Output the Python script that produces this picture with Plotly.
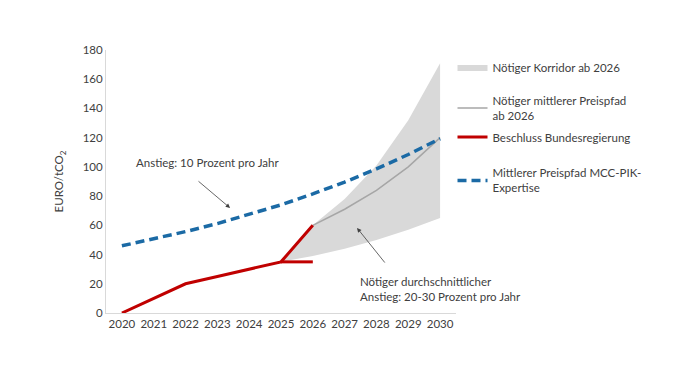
import plotly.graph_objects as go

years = [2020, 2021, 2022, 2023, 2024, 2025, 2026, 2027, 2028, 2029, 2030]
mcc_pik = [46, 50.6, 55.7, 61.2, 67.3, 74, 81.5, 89.6, 98.6, 108.5, 119.3]

gov_years = [2020, 2021, 2022, 2023, 2024, 2025, 2026]
gov_values = [0, 10, 20, 25, 30, 35, 60]
gov_flat_years = [2025, 2026]
gov_flat_values = [35, 35]

corr_years = [2025, 2026, 2027, 2028, 2029, 2030]
corr_low = [35, 39, 44, 50, 57, 65]
corr_high = [35, 60, 78, 101, 132, 171]

mid_years = [2026, 2027, 2028, 2029, 2030]
mid_values = [60, 71, 84, 100, 120]

FONT = "Lato"
TXT = "#404040"
FS = 11.5

fig = go.Figure()
fig.add_trace(go.Scatter(x=corr_years, y=corr_low, mode="lines", line=dict(width=0, color="#d9d9d9"),
                         showlegend=False, hoverinfo="skip"))
fig.add_trace(go.Scatter(x=corr_years, y=corr_high, mode="lines", line=dict(width=0, color="#d9d9d9"),
                         fill="tonexty", fillcolor="#d9d9d9", name="Nötiger Korridor ab 2026", legend="legend"))
fig.add_trace(go.Scatter(x=mid_years, y=mid_values, mode="lines", line=dict(width=1.5, color="#a6a6a6"),
                         name="Nötiger mittlerer Preispfad<br>ab 2026", legend="legend2"))
fig.add_trace(go.Scatter(x=gov_flat_years, y=gov_flat_values, mode="lines", line=dict(width=3, color="#c00000"),
                         showlegend=False))
fig.add_trace(go.Scatter(x=gov_years, y=gov_values, mode="lines", line=dict(width=3, color="#c00000"),
                         name="Beschluss Bundesregierung", legend="legend3"))
fig.add_trace(go.Scatter(x=years, y=mcc_pik, mode="lines", line=dict(width=3.5, color="#1b6aa5", dash="9px,5px"),
                         name="Mittlerer Preispfad MCC-PIK-<br>Expertise", legend="legend4"))

fig.add_annotation(x=2023.40, y=71.9, ax=2022.36, ay=91, axref="x", ayref="y",
                   xref="x", yref="y", text="", showarrow=True, arrowhead=2, arrowsize=1.1,
                   arrowwidth=0.8, arrowcolor="#404040")
fig.add_annotation(x=2027.39, y=58.2, ax=2028.30, ay=33.5, axref="x", ayref="y",
                   xref="x", yref="y", text="", showarrow=True, arrowhead=2, arrowsize=1.1,
                   arrowwidth=0.8, arrowcolor="#404040")
fig.add_annotation(x=0.08, xref="paper", y=103, yref="y", text="Anstieg: 10 Prozent pro Jahr",
                   showarrow=False, xanchor="left", font=dict(family=FONT, size=FS, color=TXT))
fig.add_annotation(x=2027.42, xref="x", y=16.4, yref="y",
                   text="Nötiger durchschnittlicher<br>Anstieg: 20-30 Prozent pro Jahr",
                   showarrow=False, xanchor="left", align="left",
                   font=dict(family=FONT, size=FS, color=TXT))

leg = dict(x=0.99, xanchor="left", yanchor="middle", font=dict(family=FONT, size=FS, color=TXT),
           itemwidth=30, bgcolor="rgba(0,0,0,0)")

fig.update_layout(
    width=678, height=381,
    margin=dict(l=98, r=230, t=42, b=76),
    paper_bgcolor="white", plot_bgcolor="white",
    font=dict(family=FONT, size=FS, color=TXT),
    legend=dict(leg, y=0.935),
    legend2=dict(leg, y=0.779),
    legend3=dict(leg, y=0.669),
    legend4=dict(leg, y=0.504),
    xaxis=dict(range=[2019.5, 2030.5], tickvals=years, ticktext=[str(y) for y in years],
               showgrid=False, zeroline=False, showline=True, linecolor="#d9d9d9", linewidth=1,
               ticks="", tickfont=dict(family=FONT, size=FS, color=TXT), fixedrange=True),
    yaxis=dict(range=[0, 180], tickvals=[0, 20, 40, 60, 80, 100, 120, 140, 160, 180],
               showgrid=False, zeroline=False, showline=True, linecolor="#d9d9d9", linewidth=1,
               ticks="", tickfont=dict(family=FONT, size=FS, color=TXT),
               title=dict(text="EURO/tCO<sub>2</sub>", font=dict(family=FONT, size=FS, color=TXT), standoff=16)),
)
fig.write_html("out.html")
